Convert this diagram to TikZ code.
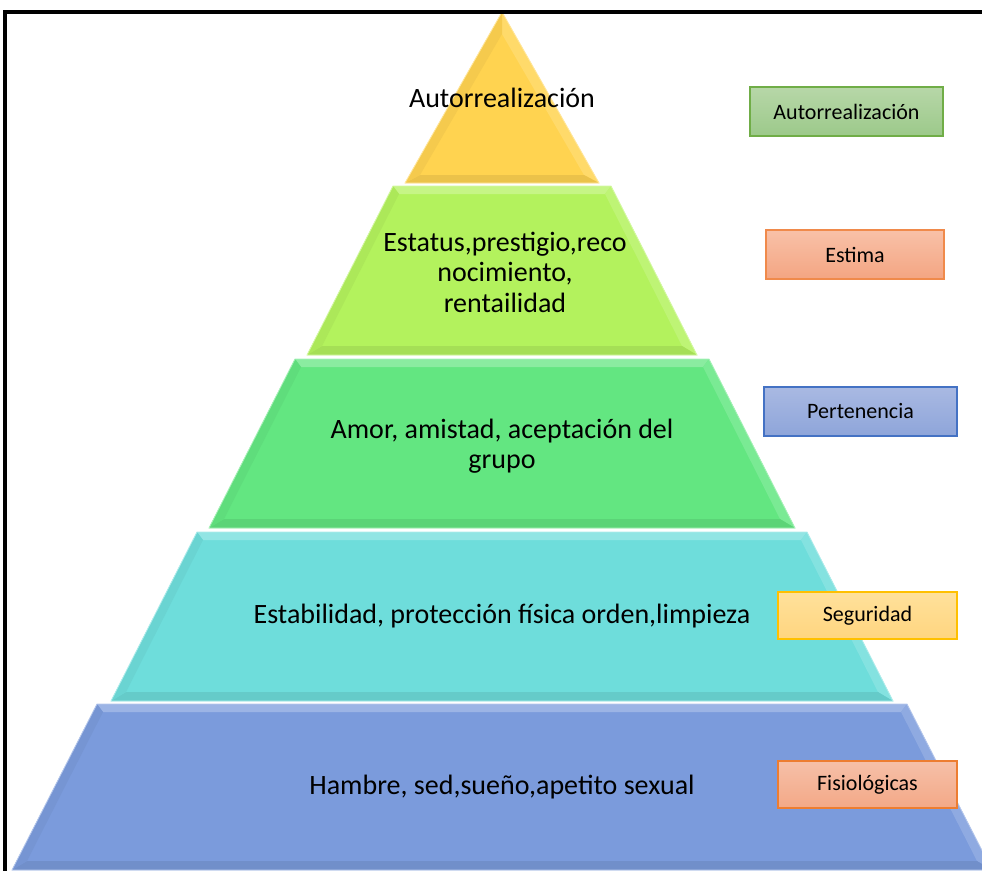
\documentclass[tikz,border=0pt]{standalone}
\usepackage{fontspec}
\setmainfont{Carlito}
\definecolor{pyY}{HTML}{FFD350}
\definecolor{pyLG}{HTML}{B3F25D}
\definecolor{pyG}{HTML}{63E681}
\definecolor{pyC}{HTML}{6EDDDB}
\definecolor{pyB}{HTML}{7B9BDC}
\definecolor{bxAd}{HTML}{70AD47}\definecolor{bxAt}{HTML}{B7D7A8}\definecolor{bxAb}{HTML}{9CC98A}
\definecolor{bxEd}{HTML}{F08A4B}\definecolor{bxEt}{HTML}{F8C1A8}\definecolor{bxEb}{HTML}{F4A582}
\definecolor{bxPd}{HTML}{4472C4}\definecolor{bxPt}{HTML}{A9B9E2}\definecolor{bxPb}{HTML}{8EA5DA}
\definecolor{bxSd}{HTML}{FFC000}\definecolor{bxSt}{HTML}{FFE19B}\definecolor{bxSb}{HTML}{FFD57F}
\definecolor{bxFd}{HTML}{ED7D31}\definecolor{bxFt}{HTML}{F6C0A8}\definecolor{bxFb}{HTML}{F3A887}
\newcommand\pyrlayer[5]{%
  \fill[#5] ({502-#2},#1) -- ({502+#2},#1) -- ({502+#4},#3) -- ({502-#4},#3) -- cycle;
  \fill[#5!75!white] ({502-#2},#1) -- ({502+#2},#1) -- ({502+#2-6},{#1+8}) -- ({502-#2+6},{#1+8}) -- cycle;
  \fill[#5!85!white] ({502+#2},#1) -- ({502+#4},#3) -- ({502+#4-15},{#3-9}) -- ({502+#2-6},{#1+8}) -- cycle;
  \fill[#5!92!black] ({502+#4},#3) -- ({502-#4},#3) -- ({502-#4+15},{#3-9}) -- ({502+#4-15},{#3-9}) -- cycle;
  \fill[#5!96!black] ({502-#4},#3) -- ({502-#2},#1) -- ({502-#2+6},{#1+8}) -- ({502-#4+15},{#3-9}) -- cycle;
  \draw[#5!55!white, line width=0.8] ({502-#2},#1) -- ({502+#2},#1) -- ({502+#4},#3) -- ({502-#4},#3) -- cycle;
}
\tikzset{
  ptext/.style={font=\fontsize{28}{30.5}\selectfont, align=center, text=black},
  lbl/.style={draw, line width=1.1, font=\fontsize{22}{24}\selectfont, text=black, inner sep=0pt},
}
\begin{document}
\begin{tikzpicture}[x=1pt,y=-1pt]
\useasboundingbox (0,0) rectangle (982,870);
\clip (0,0) rectangle (982,870);
\fill[white] (0,0) rectangle (982,870);
% top triangle
\fill[pyY] (502,12) -- (599,183) -- (405,183) -- cycle;
\fill[pyY!85!white] (502,12) -- (599,183) -- (584,175) -- (502,34) -- cycle;
\fill[pyY!92!black] (599,183) -- (405,183) -- (420,175) -- (584,175) -- cycle;
\fill[pyY!96!black] (405,183) -- (502,12) -- (502,34) -- (420,175) -- cycle;
\draw[pyY!55!white, line width=0.8] (502,12) -- (599,183) -- (405,183) -- cycle;
% layers: ytop, hwtop, ybot, hwbot, colour
\pyrlayer{186}{109}{355}{195}{pyLG}
\pyrlayer{359}{207}{528}{293}{pyG}
\pyrlayer{532}{305}{701}{391}{pyC}
\pyrlayer{704}{405}{870}{490}{pyB}
% texts
\node[ptext] (t1) at (502,98) {Autorrealización};
\node[ptext] (t2) at (505,272) {Estatus,prestigio,reco\\nocimiento,\\rentailidad};
\node[ptext] (t3) at (502,446) {Amor, amistad, aceptación del\\grupo};
\node[ptext] (t4) at (502,616) {Estabilidad, protección física orden,limpieza};
\node[ptext] (t5) at (502,787) {Hambre, sed,sueño,apetito sexual};
% labels
\node[lbl, draw=bxAd, top color=bxAt, bottom color=bxAb, minimum width=193, minimum height=49] (la) at (846.5,111.5) {Autorrealización};
\node[lbl, draw=bxEd, top color=bxEt, bottom color=bxEb, minimum width=178, minimum height=49] (le) at (855,254.5) {Estima};
\node[lbl, draw=bxPd, top color=bxPt, bottom color=bxPb, minimum width=193, minimum height=49] (lp) at (860.5,411.5) {Pertenencia};
\node[lbl, draw=bxSd, top color=bxSt, bottom color=bxSb, minimum width=179, minimum height=47] (ls) at (867.5,615.5) {Seguridad};
\node[lbl, draw=bxFd, top color=bxFt, bottom color=bxFb, minimum width=179, minimum height=47] (lf) at (867.5,784.5) {Fisiológicas};
% frame
\draw[line width=3.5] (5,12) rectangle (1000,900);
\end{tikzpicture}
\end{document}
